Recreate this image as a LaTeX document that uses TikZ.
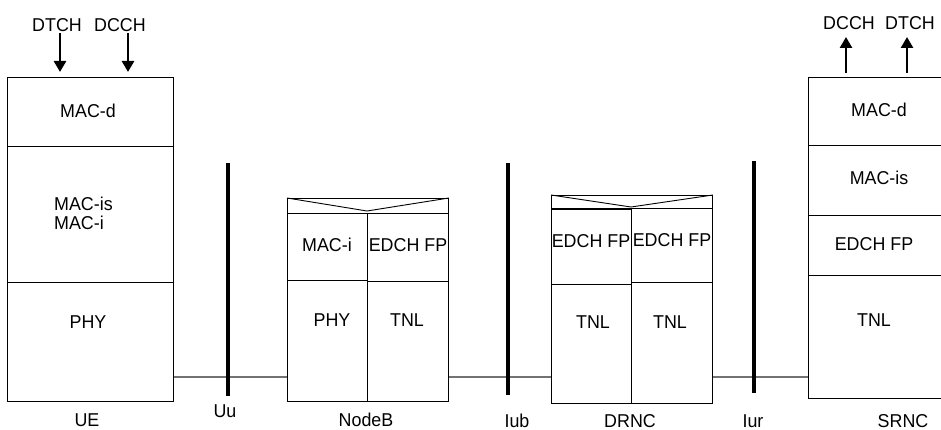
\documentclass[tikz,border=0pt]{standalone}
\usepackage{fontspec}
\setmainfont{Liberation Sans}[FakeStretch=0.96]
\usetikzlibrary{arrows.meta}
\begin{document}
\begin{tikzpicture}[x=1pt,y=-1pt,
  every node/.style={font=\fontsize{18.6}{19}\selectfont},
  cell/.style={draw, line width=0.9pt, rectangle, inner sep=0pt, anchor=north west},
  txt/.style={inner sep=0pt},
  bar/.style={fill=black, draw=none, inner sep=0pt, minimum width=4pt, anchor=north},
  link/.style={draw=black!55, line width=1.2pt},
  flow/.style={line width=2.6pt, -{Triangle[width=12pt,length=11pt]}},
  vline/.style={line width=0.9pt}
]
\useasboundingbox (0,0) rectangle (941,430);

% UE
\node[cell, minimum width=166pt, minimum height=69pt] (ue-macd) at (7,77) {};
\node[cell, minimum width=166pt, minimum height=136pt] (ue-macis) at (7,146) {};
\node[cell, minimum width=166pt, minimum height=119pt] (ue-phy) at (7,282) {};
\node[txt] (t-ue-macd) at (88,111) {MAC-d};
\node[txt, align=left, anchor=west] (t-ue-macis) at (54,213) {MAC-is\\MAC-i};
\node[txt] (t-ue-phy) at (88,322) {PHY};

% NodeB
\node[cell, minimum width=161pt, minimum height=15pt] (nb-top) at (287,198) {};
\coordinate (nb-apex) at (367,211);
\draw[vline] (nb-top.north west) -- (nb-apex) -- (nb-top.north east);
\node[cell, minimum width=80pt, minimum height=67pt] (nb-maci) at (287,213) {};
\node[cell, minimum width=81pt, minimum height=68pt] (nb-edch) at (367,213) {};
\node[cell, minimum width=80pt, minimum height=121pt] (nb-phy) at (287,280) {};
\node[cell, minimum width=81pt, minimum height=120pt] (nb-tnl) at (367,281) {};
\node[txt] (t-nb-maci) at (327,245) {MAC-i};
\node[txt] (t-nb-edch) at (408,245) {EDCH FP};
\node[txt] (t-nb-phy) at (332,320) {PHY};
\node[txt] (t-nb-tnl) at (407,320) {TNL};

% DRNC
\node[cell, minimum width=161pt, minimum height=13pt] (dr-top) at (551,195) {};
\coordinate (dr-apex) at (631,207);
\draw[vline] (dr-top.north west) -- (dr-apex) -- (dr-top.north east);
\node[cell, minimum width=80pt, minimum height=75pt] (dr-edch1) at (551,209) {};
\node[cell, minimum width=81pt, minimum height=74pt] (dr-edch2) at (631,208) {};
\node[cell, minimum width=80pt, minimum height=119pt] (dr-tnl1) at (551,284) {};
\node[cell, minimum width=81pt, minimum height=121pt] (dr-tnl2) at (631,282) {};
\node[txt] (t-dr-edch1) at (591,241) {EDCH FP};
\node[txt] (t-dr-edch2) at (672,240) {EDCH FP};
\node[txt] (t-dr-tnl1) at (593,322) {TNL};
\node[txt] (t-dr-tnl2) at (670,322) {TNL};

% SRNC
\node[cell, minimum width=140pt, minimum height=68pt] (sr-macd) at (808,77) {};
\node[cell, minimum width=140pt, minimum height=70pt] (sr-macis) at (808,145) {};
\node[cell, minimum width=140pt, minimum height=60pt] (sr-edch) at (808,215) {};
\node[cell, minimum width=140pt, minimum height=123pt] (sr-tnl) at (808,275) {};
\node[txt] (t-sr-macd) at (879,110) {MAC-d};
\node[txt] (t-sr-macis) at (879,178) {MAC-is};
\node[txt] (t-sr-edch) at (874,244) {EDCH FP};
\node[txt] (t-sr-tnl) at (874,320) {TNL};

% links
\coordinate (linky) at (0,377);
\draw[link] (ue-phy.east |- linky) -- (nb-phy.west |- linky);
\draw[link] (nb-tnl.east |- linky) -- (dr-tnl1.west |- linky);
\draw[link] (dr-tnl2.east |- linky) -- (sr-tnl.west |- linky);

% interface bars
\node[bar, minimum height=233pt] (uu) at (228,163) {};
\node[bar, minimum height=232pt] (iub) at (508,163) {};
\node[bar, minimum height=232pt] (iur) at (754,161) {};

% channel labels and arrows
\node[txt] (l-ue-dtch) at (57,25) {DTCH};
\node[txt] (l-ue-dcch) at (120,25) {DCCH};
\coordinate (a1s) at (60,33); \coordinate (a1e) at (60,72);
\coordinate (a2s) at (128,33); \coordinate (a2e) at (128,72);
\draw[flow] (a1s) -- (a1e);
\draw[flow] (a2s) -- (a2e);

\node[txt] (l-sr-dcch) at (849,23) {DCCH};
\node[txt] (l-sr-dtch) at (910,23) {DTCH};
\coordinate (a3s) at (846,73); \coordinate (a3e) at (846,37);
\coordinate (a4s) at (907,73); \coordinate (a4e) at (907,37);
\draw[flow] (a3s) -- (a3e);
\draw[flow] (a4s) -- (a4e);

% entity and interface names
\node[txt] (n-ue) at (87,420) {UE};
\node[txt] (n-uu) at (225,411) {Uu};
\node[txt] (n-nb) at (366,420) {NodeB};
\node[txt] (n-iub) at (517,421) {Iub};
\node[txt] (n-dr) at (630,421) {DRNC};
\node[txt] (n-iur) at (753,421) {Iur};
\node[txt] (n-sr) at (903,421) {SRNC};
\end{tikzpicture}
\end{document}
